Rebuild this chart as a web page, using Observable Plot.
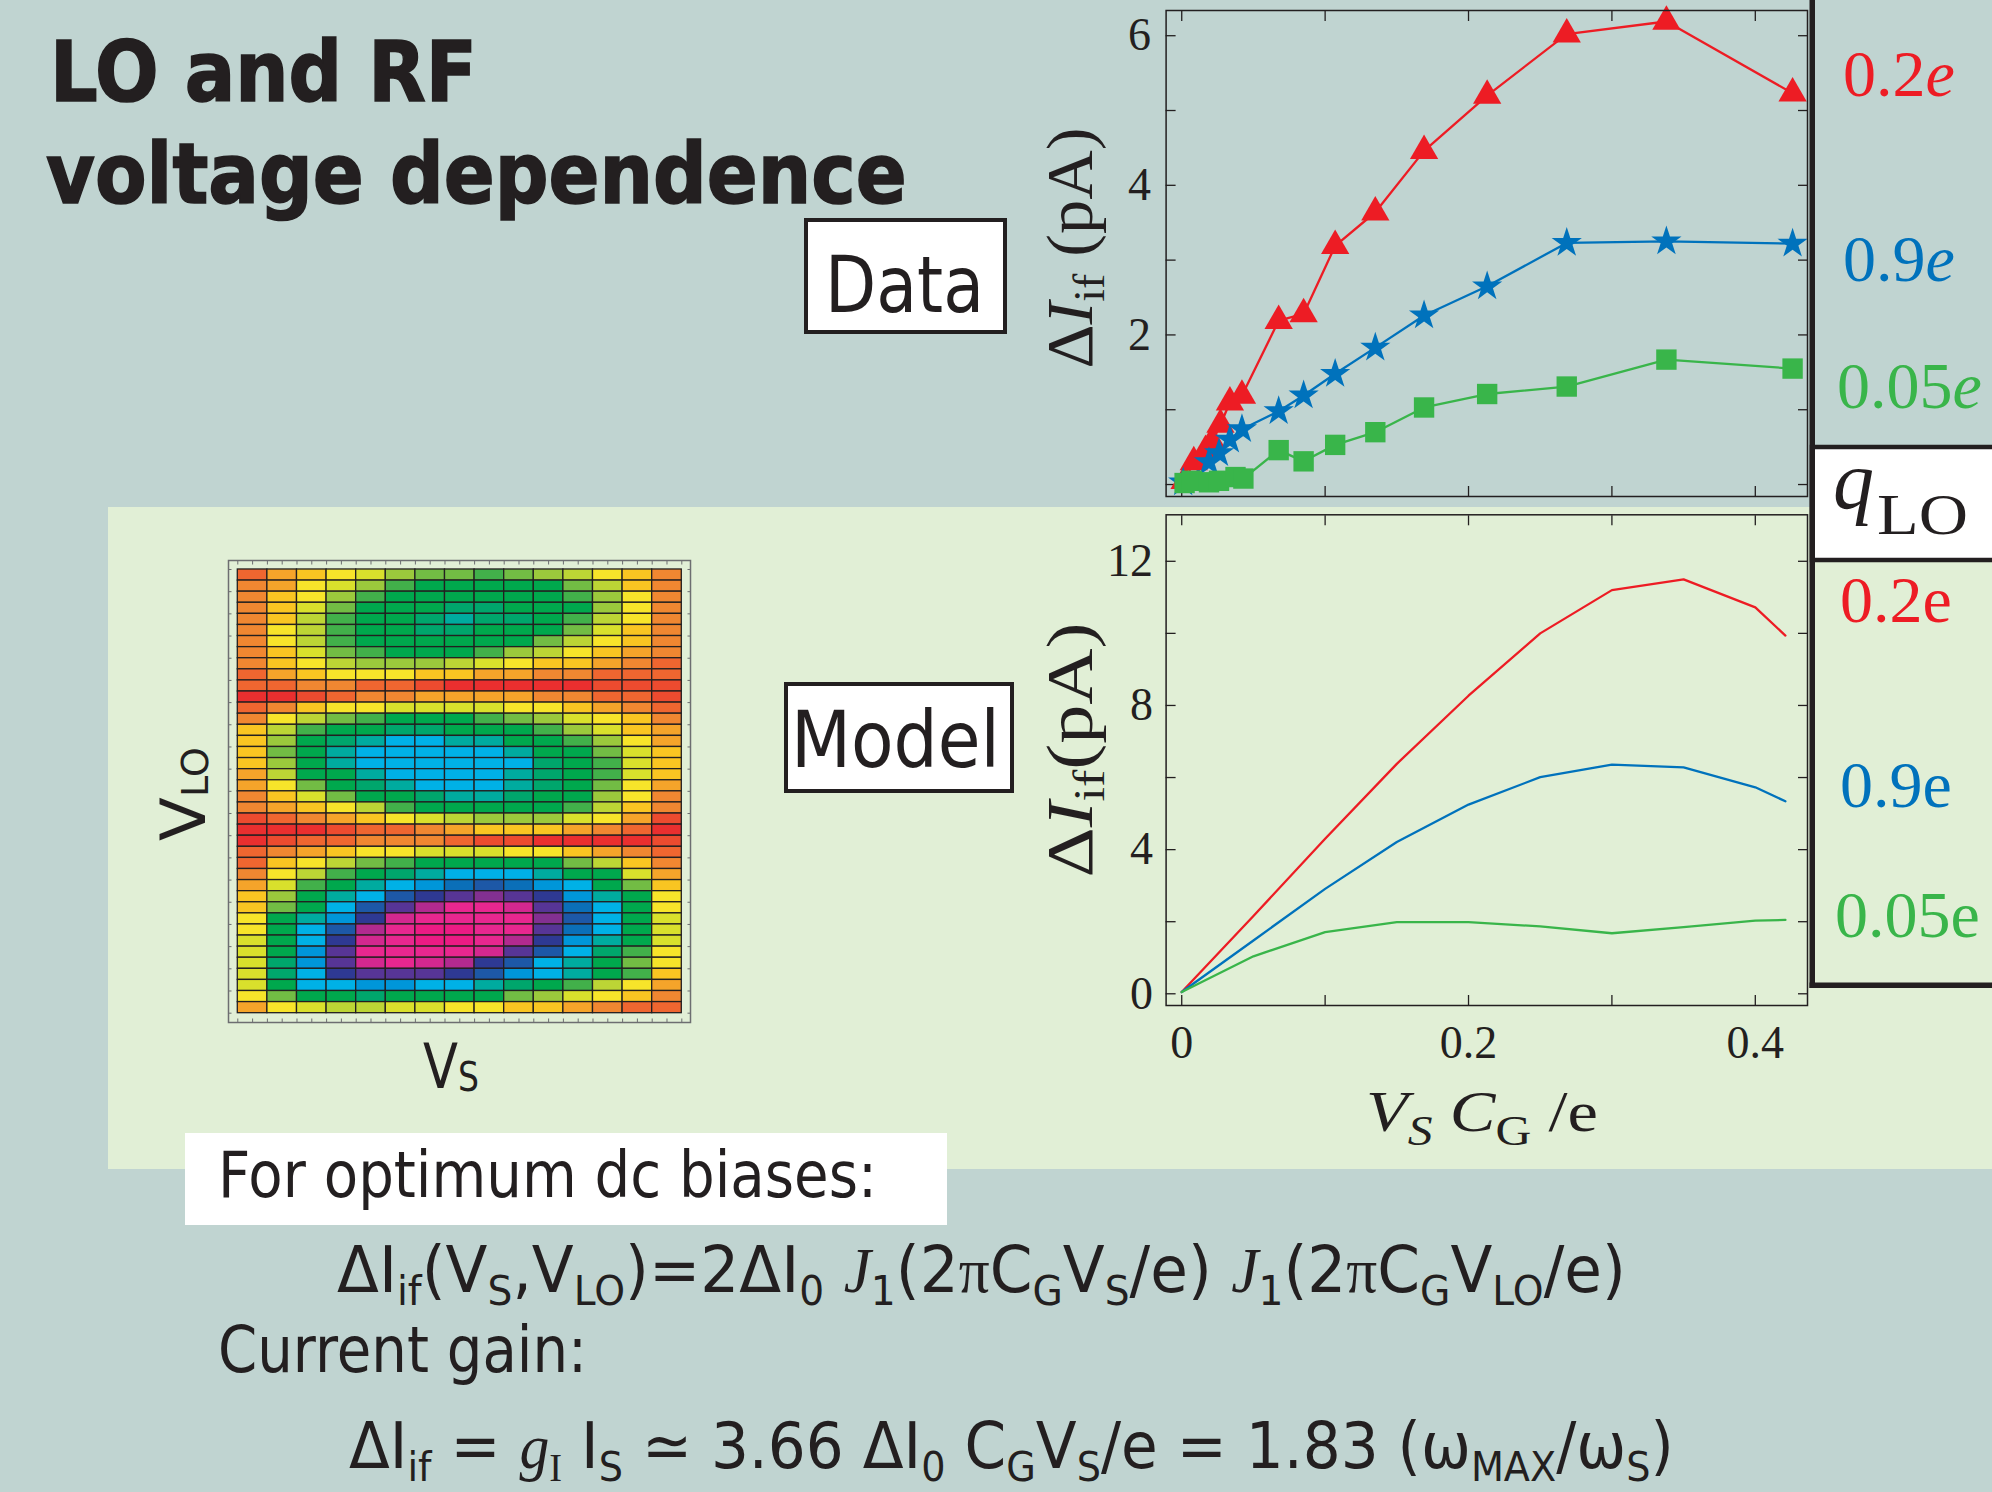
<!DOCTYPE html>
<html><head><meta charset="utf-8">
<script src="https://cdn.jsdelivr.net/npm/d3@7"></script>
<script src="https://cdn.jsdelivr.net/npm/@observablehq/plot@0.6"></script>
<style>
html,body{margin:0;padding:0;}
body{width:1992px;height:1492px;position:relative;overflow:hidden;background:#c0d4d1;}
.abs{position:absolute;}
</style></head><body>
<script>
// ---------------- data ----------------
const qLevels = ["0.2e", "0.9e", "0.05e"];
const seriesColors = ["#ed1c24", "#0072bc", "#39b54a"];

// measured (top, "Data")
const measRedX = [0.002,0.0084,0.0166,0.0212,0.027,0.0336,0.042,0.0676,0.085,0.107,0.135,0.169,0.213,0.2685,0.338,0.426];
const measRedY = [0.05,0.30,0.45,0.57,0.80,1.10,1.19,2.19,2.28,3.19,3.64,4.46,5.20,6.02,6.19,5.23];
const measBlueX = [0.001,0.019,0.026,0.0336,0.042,0.0676,0.085,0.107,0.135,0.169,0.213,0.2685,0.338,0.426];
const measBlueY = [0.03,0.30,0.42,0.60,0.74,0.98,1.19,1.48,1.83,2.26,2.65,3.23,3.25,3.22];
const measGreenX = [0.002,0.007,0.019,0.026,0.0375,0.043,0.0676,0.085,0.107,0.135,0.169,0.213,0.2685,0.338,0.426];
const measGreenY = [0.02,0.05,0.03,0.05,0.10,0.08,0.46,0.31,0.53,0.70,1.03,1.21,1.31,1.67,1.55];

// model (bottom, "Model")
const modelX = [0,0.05,0.1,0.15,0.2,0.25,0.3,0.35,0.4,0.421];
const modelRed = [0.05,2.16,4.30,6.38,8.27,10.0,11.2,11.5,10.72,9.94];
const modelBlue = [0.05,1.48,2.91,4.21,5.25,6.01,6.36,6.28,5.73,5.34];
const modelGreen = [0.05,1.04,1.71,1.99,1.99,1.87,1.68,1.85,2.03,2.05];

// axis ticks
const xTicks = [0, 0.1, 0.2, 0.3, 0.4];
const xTickLabels = [0, 0.2, 0.4];
const topYTicks = [0, 1, 2, 3, 4, 5, 6];
const topYTickLabels = [2, 4, 6];
const botYTicks = [0, 2, 4, 6, 8, 10, 12];
const botYTickLabels = [0, 4, 8, 12];

// heat map: 40 rows (top to bottom) x 15 columns, level letters a (red) ... z (magenta)
const heatRows = [
"cefghjkklkjigfd","deghjlmmmmmkifd","dfgjlmmmmmmljgd","dfhkmmmnnmmmjgd","dfilmmnonnmligd",
"dgilmmnnmmmkhfd","dgilmmmmmmkigfd","dfhklmmmljigfed","dfgijjjihgffedc","cefgggffeeddccc",
"ccddccbaaaaabbb","aabcddeeeeddccb","cdfgghhhhggfedc","dgiklmmmlkjhgfd","filmmnnmmmljhfe",
"fjmnoppoommljge","fkmopppppommkhf","fjmoppppppnmlhf","eimmopppponmlhf","egkmnoppponmkge",
"dfhkmmnoonmmjgd","defgilmmmmmlifd","bcdefghijjjhgeb","aaabccdefffedca","abccdddcbbaaaab",
"cdefgghhhggfedc","cfgiklmmmmmkifd","dgilmnopppommhe","ehlmopqrsrqpmkf","fjmopstuvutqomg",
"fkmpsuwyyxurpmg","gmoqtxyyyyvspmh","gmpswyzzyyurpmh","hmptxyzzywtqomh","hmquyyyyxuspnlg",
"hnquxyxwtspomkg","hnptuuutsqpomlf","hmppqqpponmlige","gkmmnmmmmkjhgfd","eghiihhggffedcc"
];
const heatLevels = "abcdefghijklmnopqrstuvwxyz".split("");
const heatColors = ["#ea2f2f","#ec4b2f","#ef6630","#f08731","#f5a42a","#f9c522","#f7e42a","#d9e02c","#bcd535","#9bc93c","#72bc44","#42b04a","#00a84d","#00a66c","#00ab9f","#00b1e6","#0096d9","#0b6fb8","#1d58a7","#2e3993","#573596","#833091","#b22a8f","#d3288f","#e8278f","#ec1b84"];
const heatXTicks = d3.range(0, 15.01, 0.5);
const heatYTicks = d3.range(0, 40.01, 2);

// ---------------- styles ----------------
const ink = "#231f20";
const sans = "'DejaVu Sans', Verdana, sans-serif";
const serif = "'Liberation Serif', 'DejaVu Serif', serif";
const fmt = d => String(d);

const body = d3.select("body");

// light green panel (behind charts)
body.append("div").attr("class", "abs")
  .style("left", "108px").style("top", "507px").style("width", "1884px").style("height", "662px")
  .style("background", "#e1efd6");

function place(node, left, top) {
  const d = body.append("div").attr("class", "abs").style("left", left + "px").style("top", top + "px");
  d.node().appendChild(node);
}

const pts = (xs, ys) => xs.map((x, i) => ({x, y: ys[i]}));
const measured = [pts(measRedX, measRedY), pts(measBlueX, measBlueY), pts(measGreenX, measGreenY)];
const modeled = [pts(modelX, modelRed), pts(modelX, modelBlue), pts(modelX, modelGreen)];
const symbols = ["triangle", "star", "square"];
const radii = [10.5, 9.5, 11.5];

function tickAxes(yTicks) {
  const blank = () => "";
  return [
    Plot.axisX({anchor: "top", ticks: xTicks, tickSize: -10, tickFormat: blank, label: null, stroke: ink, strokeWidth: 1.3}),
    Plot.axisX({anchor: "bottom", ticks: xTicks, tickSize: -10, tickFormat: blank, label: null, stroke: ink, strokeWidth: 1.3}),
    Plot.axisY({anchor: "left", ticks: yTicks, tickSize: -10, tickFormat: blank, label: null, stroke: ink, strokeWidth: 1.3}),
    Plot.axisY({anchor: "right", ticks: yTicks, tickSize: -10, tickFormat: blank, label: null, stroke: ink, strokeWidth: 1.3})
  ];
}

// ---------------- top chart (Data) ----------------
const topChart = Plot.plot({
  width: 772, height: 500,
  marginLeft: 125.6, marginRight: 5, marginTop: 10, marginBottom: 4,
  x: {domain: [-0.0109, 0.4364]},
  y: {domain: [-0.16, 6.337]},
  style: {background: "transparent", fontFamily: serif, fontSize: "46px", color: ink, overflow: "visible"},
  marks: [
    ...tickAxes(topYTicks),
    Plot.axisY({anchor: "left", ticks: topYTickLabels, tickSize: 0, tickPadding: 15, tickFormat: fmt, label: null, fill: ink}),
    ...measured.map((d, i) => Plot.line(d, {x: "x", y: "y", stroke: seriesColors[i], strokeWidth: 2.3})),
    ...measured.map((d, i) => Plot.dot(d, {x: "x", y: "y", symbol: symbols[i], r: radii[i], fill: seriesColors[i], stroke: "none"})),
    Plot.frame({stroke: ink, strokeWidth: 1.5})
  ]
});
place(topChart, 1040, 0);

// ---------------- bottom chart (Model) ----------------
const botChart = Plot.plot({
  width: 772, height: 640,
  marginLeft: 125.6, marginRight: 5, marginTop: 14.3, marginBottom: 135,
  x: {domain: [-0.0109, 0.4364]},
  y: {domain: [-0.325, 13.29]},
  style: {background: "transparent", fontFamily: serif, fontSize: "46px", color: ink, overflow: "visible"},
  marks: [
    ...tickAxes(botYTicks),
    Plot.axisY({anchor: "left", ticks: botYTickLabels, tickSize: 0, tickPadding: 13, tickFormat: fmt, label: null, fill: ink}),
    Plot.axisX({anchor: "bottom", ticks: xTickLabels, tickSize: 0, tickPadding: 20, tickFormat: fmt, label: null, fill: ink}),
    ...modeled.map((d, i) => Plot.line(d, {x: "x", y: "y", stroke: seriesColors[i], strokeWidth: 2.3})),
    Plot.frame({stroke: ink, strokeWidth: 1.5})
  ]
});
place(botChart, 1040, 500);

// ---------------- heat map ----------------
const cells = heatRows.flatMap((row, r) => row.split("").map((v, c) => ({r0: r, r1: r + 1, c0: c, c1: c + 1, v})));
const heatBlank = () => "";
const heat = Plot.plot({
  width: 466, height: 466,
  marginLeft: 2, marginRight: 2, marginTop: 2, marginBottom: 2,
  x: {domain: [-0.314, 15.294]},
  y: {domain: [40.84, -0.81]},
  color: {type: "ordinal", domain: heatLevels, range: heatColors},
  style: {background: "transparent", overflow: "visible"},
  marks: [
    Plot.rect(cells, {x1: "c0", x2: "c1", y1: "r0", y2: "r1", fill: "v", stroke: ink, strokeWidth: 1.3}),
    Plot.axisX({anchor: "top", ticks: heatXTicks, tickSize: -3.5, tickFormat: heatBlank, label: null, stroke: "#6d6e71"}),
    Plot.axisX({anchor: "bottom", ticks: heatXTicks, tickSize: -3.5, tickFormat: heatBlank, label: null, stroke: "#6d6e71"}),
    Plot.axisY({anchor: "left", ticks: heatYTicks, tickSize: -3.5, tickFormat: heatBlank, label: null, stroke: "#6d6e71"}),
    Plot.axisY({anchor: "right", ticks: heatYTicks, tickSize: -3.5, tickFormat: heatBlank, label: null, stroke: "#6d6e71"}),
    Plot.frame({stroke: "#6d6e71", strokeWidth: 1.5})
  ]
});
place(heat, 226, 558);

// ---------------- overlay (texts, boxes) ----------------
const svg = body.append("svg").attr("class", "abs")
  .style("left", "0px").style("top", "0px").style("pointer-events", "none")
  .attr("width", 1992).attr("height", 1492);

// rich text: segments with italics / subscripts, compressed horizontally to a target width
function rich(parent, x, y, segs, o) {
  const t = parent.append("text").attr("x", 0).attr("y", 0)
    .attr("font-family", o.family).attr("font-size", o.size).attr("fill", o.fill || ink);
  if (o.weight) t.attr("font-weight", o.weight);
  if (o.stroke) t.attr("stroke", o.fill || ink).attr("stroke-width", o.stroke);
  if (o.anchor) t.attr("text-anchor", o.anchor);
  let cur = 0;
  for (const s0 of segs) {
    const s = typeof s0 === "string" ? {t: s0} : s0;
    const target = s.sub ? (s.dy ?? o.size * 0.2) : 0;
    const ts = t.append("tspan").text(s.t);
    if (target - cur !== 0) ts.attr("dy", target - cur);
    cur = target;
    ts.attr("font-size", s.size ?? (s.sub ? o.size * 0.64 : o.size));
    if (s.i) ts.attr("font-style", "italic");
    if (s.serif) ts.attr("font-family", serif);
  }
  let sx = 1;
  if (o.len) {
    const w = t.node().getComputedTextLength();
    if (w > 0) sx = o.len / w;
  }
  t.attr("transform", `translate(${x},${y}) rotate(${o.rotate || 0}) scale(${sx},1)`);
  return t;
}

// title
rich(svg, 50, 101, ["LO and RF"], {family: sans, size: 84, weight: "bold", stroke: 1.6, len: 427});
rich(svg, 46, 203, ["voltage dependence"], {family: sans, size: 84, weight: "bold", stroke: 1.6, len: 861});

// Data / Model boxes
svg.append("rect").attr("x", 806).attr("y", 220).attr("width", 199).attr("height", 112)
  .attr("fill", "#fff").attr("stroke", ink).attr("stroke-width", 4);
rich(svg, 825, 312, ["Data"], {family: sans, size: 78, len: 159});
svg.append("rect").attr("x", 786).attr("y", 684).attr("width", 226).attr("height", 107)
  .attr("fill", "#fff").attr("stroke", ink).attr("stroke-width", 4);
rich(svg, 791, 767, ["Model"], {family: sans, size: 78, len: 209});

// heat map axis labels
rich(svg, 205, 794, ["V", {t: "LO", sub: true, dy: 3, size: 37}], {family: sans, size: 62, anchor: "middle", rotate: -90, len: 94});
rich(svg, 423, 1088, ["V", {t: "S", sub: true, dy: 3, size: 40}], {family: sans, size: 62, len: 56});

// chart y labels (rotated)
rich(svg, 1092, 248, ["Δ", {t: "I", i: true}, {t: "if", sub: true, dy: 12, size: 44}, " (pA)"], {family: serif, size: 66, anchor: "middle", rotate: -90, len: 241});
rich(svg, 1092, 750, ["Δ", {t: "I", i: true}, {t: "if", sub: true, dy: 12, size: 44}, "(pA)"], {family: serif, size: 66, anchor: "middle", rotate: -90, len: 255});

// x label
rich(svg, 1366, 1131, [{t: "V", i: true}, {t: "S", sub: true, i: true, dy: 14, size: 42}, " ", {t: "C", i: true}, {t: "G", sub: true, dy: 14, size: 42}, " /e"], {family: serif, size: 58, len: 232});

// legend column
svg.append("rect").attr("x", 1812).attr("y", 447).attr("width", 190).attr("height", 113)
  .attr("fill", "#fff").attr("stroke", ink).attr("stroke-width", 4.5);
svg.append("rect").attr("x", 1809.5).attr("y", 0).attr("width", 5.5).attr("height", 988).attr("fill", ink);
svg.append("rect").attr("x", 1809.5).attr("y", 982.5).attr("width", 185).attr("height", 5.5).attr("fill", ink);
rich(svg, 1833, 508, [{t: "q", i: true}], {family: serif, size: 82});
rich(svg, 1877, 534, ["LO"], {family: serif, size: 58, len: 91});

const topLegendY = [96, 281, 408];
const topLegendX = [1843, 1843, 1837];
const botLegendY = [622, 807, 937];
const botLegendX = [1840, 1840, 1835];
qLevels.forEach((q, i) => {
  const num = q.slice(0, -1);
  rich(svg, topLegendX[i], topLegendY[i], [num, {t: "e", i: true}], {family: serif, size: 66, fill: seriesColors[i]});
  rich(svg, botLegendX[i], botLegendY[i], [num, "e"], {family: serif, size: 66, fill: seriesColors[i]});
});

// bottom text
svg.append("rect").attr("x", 185).attr("y", 1133).attr("width", 762).attr("height", 92).attr("fill", "#fff");
rich(svg, 218, 1197, ["For optimum dc biases:"], {family: sans, size: 64, len: 659});
rich(svg, 337, 1292, [
  "ΔI", {t: "if", sub: true}, "(V", {t: "S", sub: true}, ",V", {t: "LO", sub: true}, ")=2ΔI", {t: "0", sub: true}, " ",
  {t: "J", i: true, serif: true}, {t: "1", sub: true}, "(2", {t: "π", serif: true}, "C", {t: "G", sub: true}, "V", {t: "S", sub: true}, "/e) ",
  {t: "J", i: true, serif: true}, {t: "1", sub: true}, "(2", {t: "π", serif: true}, "C", {t: "G", sub: true}, "V", {t: "LO", sub: true}, "/e)"
], {family: sans, size: 64, len: 1289});
rich(svg, 218, 1372, ["Current gain:"], {family: sans, size: 64, len: 369});
rich(svg, 349, 1468, [
  "ΔI", {t: "if", sub: true}, " = ", {t: "g", i: true, serif: true}, {t: "I", sub: true, serif: true}, " I", {t: "S", sub: true},
  " ≃ 3.66 ΔI", {t: "0", sub: true}, " C", {t: "G", sub: true}, "V", {t: "S", sub: true}, "/e = 1.83 (ω", {t: "MAX", sub: true}, "/ω", {t: "S", sub: true}, ")"
], {family: sans, size: 64, len: 1325});
</script>
</body></html>
